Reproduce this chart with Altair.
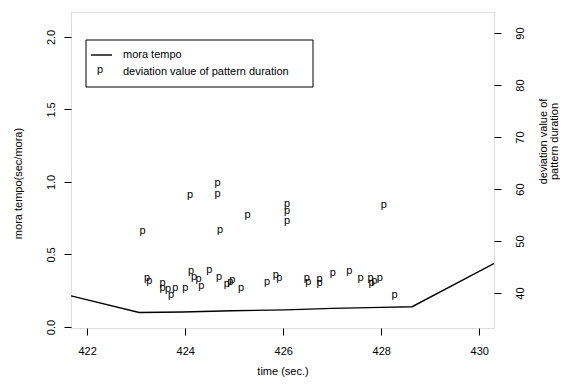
import altair as alt
import pandas as pd

# mora tempo line (left axis, sec/mora)
tempo_time = [421.67, 423.06, 423.95, 424.95, 426.05, 427.0, 428.0, 428.63, 430.31]
tempo_value = [0.215, 0.100, 0.103, 0.112, 0.118, 0.128, 0.135, 0.140, 0.440]

# deviation value of pattern duration (right axis)
dev_time = [423.13, 424.10, 424.66, 424.66, 424.71, 425.27, 426.08, 426.08, 426.08, 428.05,
            423.22, 423.27, 423.54, 423.54, 423.65, 423.71, 423.80, 424.00, 424.12, 424.18,
            424.27, 424.33, 424.49, 424.69, 424.85, 424.92, 424.96, 425.14, 425.67, 425.85,
            425.92, 426.48, 426.51, 426.74, 426.74, 427.01, 427.35, 427.58, 427.78, 427.80,
            427.86, 427.97, 428.27]
dev_value = [51.5, 58.4, 60.8, 58.65, 51.8, 54.7, 56.7, 55.3, 53.4, 56.5,
             42.5, 41.9, 41.5, 40.5, 40.4, 39.3, 40.6, 40.6, 43.9, 42.7,
             42.3, 41.0, 44.0, 42.7, 41.4, 41.7, 42.1, 40.5, 41.8, 43.0,
             42.5, 42.5, 41.7, 42.3, 41.5, 43.4, 43.9, 42.5, 42.5, 41.5,
             41.9, 42.5, 39.2]

x_ticks = [422, 424, 426, 428, 430]
left_ticks = [0.0, 0.5, 1.0, 1.5, 2.0]
right_ticks = [40, 50, 60, 70, 80, 90]

legend_labels = ["mora tempo", "deviation value of pattern duration"]

FONT = "Liberation Sans"

tempo_df = pd.DataFrame({"time": tempo_time, "tempo": tempo_value})
dev_df = pd.DataFrame({"time": dev_time, "dev": dev_value})
one = pd.DataFrame({"k": [0]})

x_enc = alt.X(
    "time:Q",
    scale=alt.Scale(domain=[421.67, 430.30], nice=False, zero=False),
    axis=alt.Axis(
        values=x_ticks, title="time (sec.)", grid=False, domain=False,
        tickSize=7, tickColor="black", labelAngle=0, labelPadding=10,
        labelFontSize=11, labelColor="black", labelFont=FONT,
        titleFontSize=11, titleFontWeight="normal", titleColor="black", titleFont=FONT,
        titleBaseline="bottom", titleY=48,
    ),
)

line = alt.Chart(tempo_df).mark_line(color="black", strokeWidth=1.4, clip=True).encode(
    x=x_enc,
    y=alt.Y(
        "tempo:Q",
        scale=alt.Scale(domain=[-0.007, 2.172], nice=False, zero=False),
        axis=alt.Axis(
            orient="left", values=left_ticks, format=".1f", title="mora tempo(sec/mora)",
            grid=False, domain=False, tickSize=7, tickColor="black",
            labelAngle=270, labelAlign="center", labelBaseline="bottom", labelPadding=8,
            labelFontSize=11, labelColor="black", labelFont=FONT,
            titleAngle=270, titleAlign="center", titleBaseline="middle",
            titleX=-53, titleY=171,
            titleFontSize=11, titleFontWeight="normal", titleColor="black", titleFont=FONT,
        ),
    ),
)

points = alt.Chart(dev_df).mark_text(text="p", fontSize=11, font=FONT, color="black", dy=-2).encode(
    x=alt.X("time:Q"),
    y=alt.Y(
        "dev:Q",
        scale=alt.Scale(domain=[33.27, 94.04], nice=False, zero=False),
        axis=alt.Axis(
            orient="right", values=right_ticks, title=["deviation value of", "pattern duration"],
            grid=False, domain=False, tickSize=7, tickColor="black",
            labelAngle=270, labelAlign="center", labelBaseline="top", labelPadding=13,
            labelFontSize=11, labelColor="black", labelFont=FONT,
            titleAngle=270, titleAlign="center", titleBaseline="middle",
            titleX=49, titleY=129, titleLineHeight=11,
            titleFontSize=11, titleFontWeight="normal", titleColor="black", titleFont=FONT,
        ),
    ),
)

legend_box = alt.Chart(one).mark_rect(fill="white", stroke="black", strokeWidth=1).encode(
    x=alt.value(15), x2=alt.value(242), y=alt.value(28), y2=alt.value(75)
)
legend_line = alt.Chart(one).mark_rule(color="black", strokeWidth=1.4).encode(
    x=alt.value(20), x2=alt.value(41), y=alt.value(43)
)
legend_p = alt.Chart(one).mark_text(text="p", fontSize=11, font=FONT, color="black", dy=-2).encode(
    x=alt.value(29), y=alt.value(59.5)
)
legend_t1 = alt.Chart(one).mark_text(text=legend_labels[0], fontSize=11, font=FONT, color="black",
                                     align="left", baseline="middle").encode(
    x=alt.value(52), y=alt.value(43)
)
legend_t2 = alt.Chart(one).mark_text(text=legend_labels[1], fontSize=11, font=FONT, color="black",
                                     align="left", baseline="middle").encode(
    x=alt.value(52), y=alt.value(59.5)
)

chart = alt.layer(
    line, points, legend_box, legend_line, legend_p, legend_t1, legend_t2
).resolve_scale(y="independent").properties(
    width=423, height=316,
    autosize=alt.AutoSizeParams(type="none"),
    padding={"left": 63, "top": 4, "right": 66, "bottom": 49},
).configure_view(
    stroke="black", strokeWidth=1.3
).configure(font=FONT, background="white")

chart.save("out.html", embed_options={"renderer": "svg", "actions": False})
